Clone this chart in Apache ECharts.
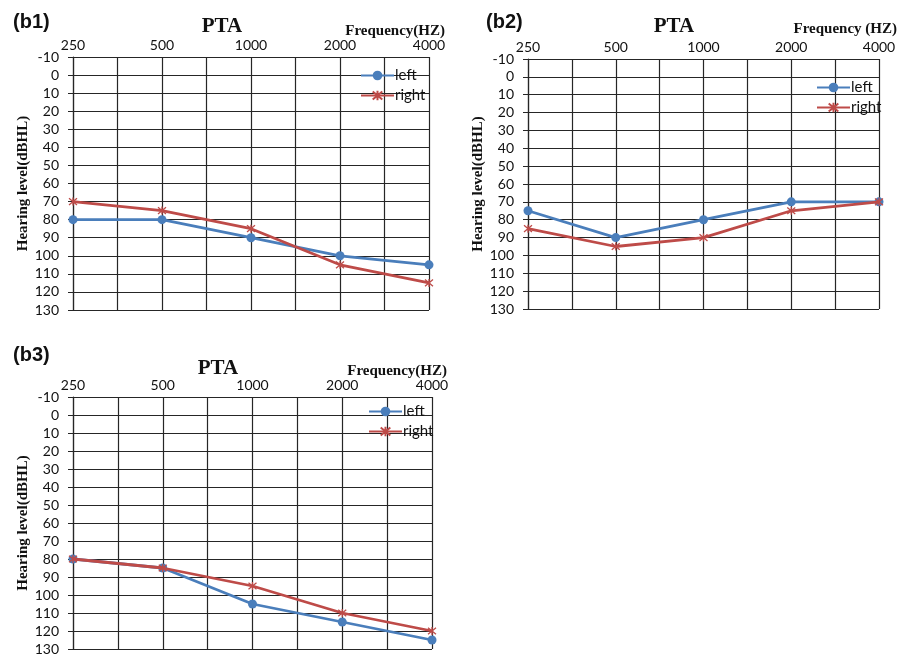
<!DOCTYPE html>
<html><head><meta charset="utf-8">
<script src="https://cdn.jsdelivr.net/npm/echarts@6/dist/echarts.min.js"></script>
<style>html,body{margin:0;padding:0;background:#fff}#c{width:909px;height:656px}</style>
</head><body><div id="c"></div>
<script>
// Frequencies (octave positions 0..4)
const freqs = [250, 500, 1000, 2000, 4000];
const yTicksMin = -10, yTicksMax = 130;
// Panel b1
const b1Left = [80, 80, 90, 100, 105];
const b1Right = [70, 75, 85, 105, 115];
// Panel b2
const b2Left = [75, 90, 80, 70, 70];
const b2Right = [85, 95, 90, 75, 70];
// Panel b3
const b3Left = [80, 85, 105, 115, 125];
const b3Right = [80, 85, 95, 110, 120];

const panels = [
  {tag:'(b1)', freqLabel:'Frequency(HZ)', left:b1Left, right:b1Right,
   grid:{left:73, top:57, width:356, height:253}, tagPos:[13,22], titlePos:[222,27], freqPos:[445,31], legend:[355,63]},
  {tag:'(b2)', freqLabel:'Frequency (HZ)', left:b2Left, right:b2Right,
   grid:{left:528, top:59, width:351, height:250}, tagPos:[486,22], titlePos:[674,27], freqPos:[897,29], legend:[811,75]},
  {tag:'(b3)', freqLabel:'Frequency(HZ)', left:b3Left, right:b3Right,
   grid:{left:73, top:397, width:359, height:252}, tagPos:[13,355], titlePos:[218,369], freqPos:[447,371], legend:[363,399]}
];

const BLUE = '#4A7EBB', RED = '#BE4B48', GRIDC = '#262626';
const asterisk = 'path://M0,0L10,10M10,0L0,10M5,-1L5,11';

const option = {
  animation:false,
  backgroundColor:'#fff',
  grid:[], xAxis:[], yAxis:[], series:[], legend:[], graphic:[]
};

panels.forEach((p, i) => {
  option.grid.push(Object.assign({containLabel:false}, p.grid));
  option.xAxis.push({
    type:'value', gridIndex:i, position:'top', min:0, max:4, interval:0.5,
    axisLine:{show:true, lineStyle:{color:GRIDC, width:1.2}},
    axisTick:{show:false},
    splitLine:{show:true, lineStyle:{color:GRIDC, width:1.2}},
    axisLabel:{margin:5, color:'#111', fontFamily:'Lato', fontSize:14,
      formatter:v => Number.isInteger(v) ? String(freqs[v]) : ''}
  });
  option.yAxis.push({
    type:'value', gridIndex:i, inverse:true, min:yTicksMin, max:yTicksMax, interval:10,
    name:'Hearing level(dBHL)', nameLocation:'middle', nameRotate:90, nameGap:42,
    nameTextStyle:{fontFamily:'Liberation Serif', fontWeight:'bold', fontSize:15, color:'#111'},
    axisLine:{show:true, lineStyle:{color:GRIDC, width:1.2}},
    axisTick:{show:true, length:5, lineStyle:{color:GRIDC}},
    splitLine:{show:true, lineStyle:{color:GRIDC, width:1.2}},
    axisLabel:{margin:14, color:'#111', fontFamily:'Lato', fontSize:14}
  });
  option.series.push({
    name:'left', type:'line', xAxisIndex:i, yAxisIndex:i,
    data:p.left.map((v,k)=>[k,v]),
    symbol:'circle', symbolSize:9,
    lineStyle:{color:BLUE, width:2.8}, itemStyle:{color:BLUE}, z:3
  });
  option.series.push({
    name:'right', type:'line', xAxisIndex:i, yAxisIndex:i,
    data:p.right.map((v,k)=>[k,v]),
    symbol:asterisk, symbolSize:8,
    lineStyle:{color:RED, width:2.8}, itemStyle:{color:'rgba(0,0,0,0)', borderColor:RED, borderWidth:1.3}, z:4
  });
  option.legend.push({
    orient:'vertical', left:p.legend[0], top:p.legend[1], itemWidth:33, itemHeight:12, itemGap:5,
    textStyle:{fontFamily:'Lato', fontSize:15, color:'#111', padding:[0,0,0,-4]},
    data:['left','right']
  });
  option.graphic.push(
    {type:'text', x:p.tagPos[0], y:p.tagPos[1], style:{text:p.tag, font:'bold 20px "Liberation Sans"', fill:'#111', textAlign:'left', textVerticalAlign:'middle'}},
    {type:'text', x:p.titlePos[0], y:p.titlePos[1], style:{text:'PTA', font:'bold 21px "Liberation Serif"', fill:'#111', textAlign:'center', textVerticalAlign:'middle'}},
    {type:'text', x:p.freqPos[0], y:p.freqPos[1], style:{text:p.freqLabel, font:'bold 15px "Liberation Serif"', fill:'#111', textAlign:'right', textVerticalAlign:'middle'}}
  );
});

const chart = echarts.init(document.getElementById('c'), null, {renderer:'canvas'});
chart.setOption(option);
</script></body></html>
